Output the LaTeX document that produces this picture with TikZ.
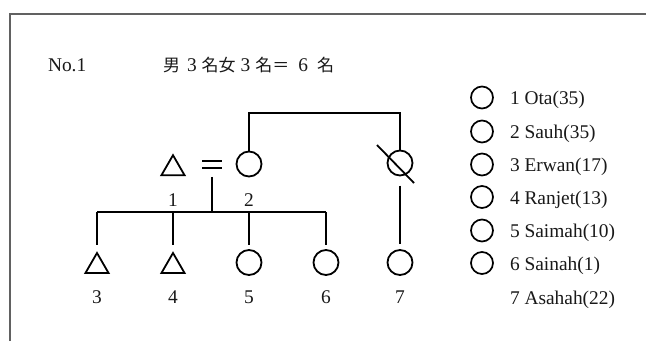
\documentclass[tikz,border=0pt]{standalone}
\usepackage{fontspec}
\setmainfont{Liberation Serif}
\newfontfamily\cjk{Noto Sans CJK JP}
\usetikzlibrary{shapes.geometric}
\begin{document}
\begin{tikzpicture}[x=1pt,y=-1pt,
  every node/.style={inner sep=0pt, outer sep=0pt},
  txt/.style={font=\fontsize{19.4}{22}\selectfont, text=black!90, anchor=base},
  ltxt/.style={txt, anchor=base west},
  fem/.style={circle, draw, line width=1.8pt, minimum size=25pt},
  male/.style={regular polygon, regular polygon sides=3, draw, line width=1.8pt, minimum size=26.6pt},
  keyc/.style={circle, draw, line width=1.7pt, minimum size=22pt},
  link/.style={line width=1.8pt},
  frame/.style={line width=2pt, draw=black!62},
  marry/.style={minimum width=20pt, minimum height=7.6pt,
    path picture={\draw[line width=1.8pt] (path picture bounding box.north west) -- (path picture bounding box.north east)
      (path picture bounding box.south west) -- (path picture bounding box.south east);}}]
\useasboundingbox (0,0) rectangle (646,341);
\fill[white] (0,0) rectangle (646,341);
% frame
\draw[frame] (9.5,341) -- (9.5,14) -- (646,14);
% header
\node[ltxt] (no) at (48,71) {No.1};
\node[ltxt] (title) at (163,71) {{\cjk\fontsize{17}{20}\selectfont 男}\hspace{7pt}3\hspace{5pt}{\cjk\fontsize{17}{20}\selectfont 名女}\hspace{5pt}3\hspace{5pt}{\cjk\fontsize{17}{20}\selectfont 名＝}\hspace{9pt}6\hspace{9pt}{\cjk\fontsize{17}{20}\selectfont 名}};
% generation 1
\node[male] (p1) at (173,168.5) {};
\node[marry] (eq) at (212,164.5) {};
\node[fem] (p2) at (249,164) {};
\node[fem] (px) at (400,163) {};
\draw[link] ([shift={(-23,-18)}]px.center) -- ([shift={(14,20)}]px.center);
\node[txt] (l1) at (173,206.5) {1};
\node[txt] (l2) at (249,206.5) {2};
% generation 2
\node[male] (p3) at (97,266.3) {};
\node[male] (p4) at (173,266.3) {};
\node[fem] (p5) at (249,262.5) {};
\node[fem] (p6) at (326,262.5) {};
\node[fem] (p7) at (400,262.5) {};
\foreach \i/\x in {3/97,4/173,5/249,6/326,7/400}
  \node[txt] (l\i) at (\x,303.5) {\i};
% connectors
\coordinate (topy) at (0,113);
\coordinate (bar) at (0,212);
\draw[link] (p2.north) -- (p2.north |- topy) -| (px.north);
\draw[link] ([yshift=-10pt]px.south) -- ([yshift=6pt]p7.north);
\draw[link] ([yshift=-8.5pt]eq.south) -- (eq.south |- bar);
\draw[link] (p3.north |- bar) -- (p6.north |- bar);
\draw[link] (p3.north |- bar) -- ([yshift=8pt]p3.north);
\draw[link] (p4.north |- bar) -- ([yshift=8pt]p4.north);
\draw[link] (p5.north |- bar) -- ([yshift=5pt]p5.north);
\draw[link] (p6.north |- bar) -- ([yshift=5pt]p6.north);
% legend
\foreach \i/\y/\t in {1/97.5/{1 Ota(35)},2/131.5/{2 Sauh(35)},3/164.5/{3 Erwan(17)},4/197/{4 Ranjet(13)},5/230.5/{5 Saimah(10)},6/263/{6 Sainah(1)}}{
  \node[keyc] (k\i) at (482,\y) {};
  \node[ltxt] (kt\i) at (510,\y+7) {\t};
}
\node[ltxt] (kt7) at (510,304) {7 Asahah(22)};
\end{tikzpicture}
\end{document}
